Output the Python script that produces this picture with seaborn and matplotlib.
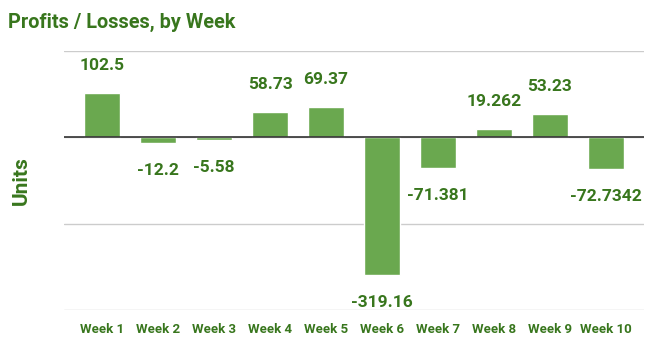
import matplotlib
matplotlib.use("Agg")
import matplotlib.pyplot as plt
import seaborn as sns
import pandas as pd

weeks = ["Week 1", "Week 2", "Week 3", "Week 4", "Week 5",
         "Week 6", "Week 7", "Week 8", "Week 9", "Week 10"]
values = [102.5, -12.2, -5.58, 58.73, 69.37, -319.16, -71.381, 19.262, 53.23, -72.7342]
labels = ["102.5", "-12.2", "-5.58", "58.73", "69.37", "-319.16", "-71.381", "19.262", "53.23", "-72.7342"]

sns.set_style("white")
plt.rcParams['font.family'] = ['Roboto', 'DejaVu Sans']

TEXT = "#38761d"
BAR = "#6aa84f"

df = pd.DataFrame({"week": weeks, "value": values})

fig = plt.figure(figsize=(6.57, 3.48), dpi=100)
ax = fig.add_axes([64/657, 1-310/348, (644-64)/657, (310-51)/348])

sns.barplot(data=df, x="week", y="value", color=BAR, width=0.64, saturation=1, ax=ax)

ax.set_ylim(-400, 200)
ax.set_xlim(-0.68, 9.68)
ax.set_yticks([-400, -200, 0, 200])
ax.yaxis.grid(True, color="#cccccc", linewidth=1)
ax.set_axisbelow(True)
ax.tick_params(axis="y", left=False, labelleft=False)
ax.tick_params(axis="x", bottom=False, pad=6)
for s in ax.spines.values():
    s.set_visible(False)
ax.axhline(0, color="#333333", linewidth=1.2, zorder=3)

for lbl in ax.get_xticklabels():
    lbl.set_fontweight("bold")
    lbl.set_color(TEXT)
    lbl.set_fontsize(9.5)

for i, (v, t) in enumerate(zip(values, labels)):
    off = 20 if v >= 0 else -20
    ax.annotate(t, xy=(i, v), xytext=(0, off), textcoords="offset points",
                ha="center", va="center", fontsize=12.5, fontweight="bold", color=TEXT)

ax.set_xlabel("")
ax.set_ylabel("Units", fontsize=15, fontweight="bold", color=TEXT, labelpad=24)
fig.text(8/657, 1-22/348, "Profits / Losses, by Week", fontsize=14.3, fontweight="bold",
         color=TEXT, ha="left", va="center")

fig.savefig("out.png", dpi=100)
